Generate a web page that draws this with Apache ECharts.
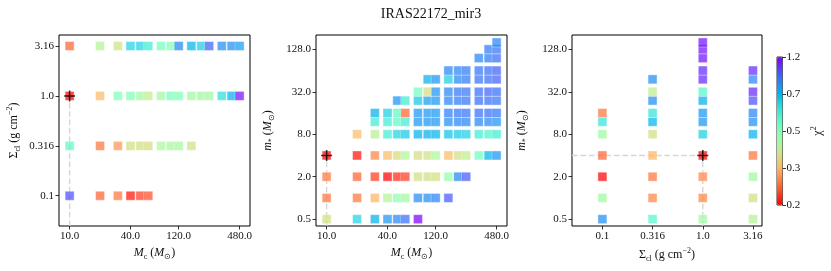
<!DOCTYPE html>
<html><head><meta charset="utf-8">
<script src="https://cdn.jsdelivr.net/npm/echarts@6/dist/echarts.min.js"></script>
<style>html,body{margin:0;padding:0;background:#fff}#c{width:831px;height:271px}</style>
</head><body><div id="c"></div>
<script>
// ---- grids of model parameters ----
const mcGrid = [10, 20, 30, 40, 50, 60, 80, 100, 120, 160, 200, 240, 320, 400, 480];
const sigmaGrid = [0.1, 0.316, 1.0, 3.16];
const mstarGrid = [0.5, 1, 2, 4, 8, 12, 16, 24, 32, 48, 64, 96, 128, 160];

// ---- tick labels ----
const mcTicks = [10, 40, 120, 480];
const mcTickLabels = ['10.0', '40.0', '120.0', '480.0'];
const sigmaTicks = [0.1, 0.316, 1.0, 3.16];
const sigmaTickLabels = ['0.1', '0.316', '1.0', '3.16'];
const mstarTicks = [0.5, 2, 8, 32, 128];
const mstarTickLabels = ['0.5', '2.0', '8.0', '32.0', '128.0'];
const chiTicks = [0.2, 0.3, 0.5, 0.7, 1.2];
const chiTickLabels = ['0.2', '0.3', '0.5', '0.7', '1.2'];

// best model
const bestMc = 10, bestSigma = 1.0, bestMstar = 4;

// ---- panel 1: chi2 per Sigma row, along mcGrid ----
const p1Sig01   = [1.0, 0.25, 0.26, 0.21, 0.23, 0.24];
const p1Sig0316 = [0.55, 0.26, 0.28, 0.37, 0.37, 0.37, 0.43, 0.44, 0.44, 0.38];
const p1Sig1    = [0.2, 0.31, 0.5, 0.5, 0.45, 0.4, 0.45, 0.52, 0.5, 0.45, 0.45, 0.45, 0.63, 0.72, 1.15];
const p1Sig316  = [0.25, 0.42, 0.38, 0.65, 0.65, 0.6, 0.52, 0.5, 0.85, 0.7, 0.66, 0.95, 0.82, 0.82, 0.78];

// ---- panel 2: chi2 per m* row, along mcGrid ----
const p2M05  = [0.37, 0.65, 0.72, 0.8, 0.85, 0.92, 1.2];
const p2M1   = [0.26, 0.26, 0.3, 0.42, 0.48, 0.45, 0.83, 0.83, 0.85, 0.97];
const p2M2   = [0.26, 0.25, 0.23, 0.2, 0.22, 0.23, 0.37, 0.37, 0.37, 0.47, 0.85, 0.97];
const p2M4   = [0.2, 0.21, 0.27, 0.31, 0.36, 0.43, 0.37, 0.38, 0.43, 0.31, 0.37, 0.4, 0.53, 0.7, 0.8];
const p2M8   = [null, 0.31, 0.41, 0.6, 0.65, 0.67, 0.7, 0.72, 0.7, 0.68, 0.67, 0.66, 0.6, 0.58, 0.6];
const p2M12  = [null, null, 0.6, 0.6, 0.55, 0.6, 0.8, 0.8, 0.8, 0.83, 0.85, 0.85, 0.85, 0.85, 0.8];
const p2M16  = [null, null, 0.72, 0.66, 0.55, 0.25, 0.8, 0.8, 0.8, 0.87, 0.9, 0.9, 0.92, 0.92, 0.9];
const p2M24  = [null, null, null, null, 0.8, 0.6, 0.67, 0.78, 0.8, 0.85, 0.88, 0.9, 0.92, 0.92, 0.9];
const p2M32  = [null, null, null, null, null, null, 0.52, 0.37, 0.8, 0.85, 0.9, 0.9, 0.92, 0.95, 0.92];
const p2M48  = [null, null, null, null, null, null, null, 0.72, 0.8, 0.66, 0.85, 0.88, 0.9, 0.92, 0.95];
const p2M64  = [null, null, null, null, null, null, null, null, null, 0.85, 0.85, 0.88, 0.9, 0.92, 0.95];
const p2M96  = [null, null, null, null, null, null, null, null, null, null, null, null, 0.85, 0.88, 0.92];
const p2M128 = [null, null, null, null, null, null, null, null, null, null, null, null, null, 0.88, 0.9];
const p2M160 = [null, null, null, null, null, null, null, null, null, null, null, null, null, null, 0.85];

// ---- panel 3: chi2 per Sigma column, along mstarGrid ----
const p3Sig01   = [0.82, 0.45, 0.2, 0.25, 0.45, 0.62, 0.26];
const p3Sig0316 = [0.57, 0.27, 0.26, 0.3, 0.37, 0.7, 0.62, 0.82, 0.4, 0.82];
const p3Sig1    = [0.45, 0.27, 0.27, 0.2, 0.66, 0.8, 0.8, 0.72, 0.57, 1.1, 1.1, 1.15, 1.15, 1.15];
const p3Sig316  = [0.42, 0.37, 0.45, 0.26, 0.7, 0.82, 0.85, 1.0, 1.1, 0.85, 1.1];

// ---------------------------------------------------------------
const L = Math.log10;
const FONT = 'Liberation Serif';
function chiToPos(c) {
  for (let i = 0; i < chiTicks.length - 1; i++) {
    if (c <= chiTicks[i + 1] || i === chiTicks.length - 2) {
      const f = (c - chiTicks[i]) / (chiTicks[i + 1] - chiTicks[i]);
      return Math.max(0, Math.min(1, (i + f) / (chiTicks.length - 1)));
    }
  }
}
function rainbow(x) {
  const cl = v => Math.round(255 * Math.max(0, Math.min(1, v)));
  return 'rgb(' + cl(Math.abs(2 * x - 0.5)) + ',' + cl(Math.sin(Math.PI * x)) + ',' + cl(Math.cos(Math.PI * x / 2)) + ')';
}
const cmap = [];
for (let k = 0; k <= 40; k++) cmap.push(rainbow(1 - k / 40));

function pts(xs, yFixed, vals, swap) {
  const out = [];
  vals.forEach((c, i) => {
    if (c == null) return;
    const a = L(xs[i]), b = L(yFixed);
    out.push(swap ? [b, a, chiToPos(c), c] : [a, b, chiToPos(c), c]);
  });
  return out;
}
const data1 = [].concat(
  pts(mcGrid, 0.1, p1Sig01), pts(mcGrid, 0.316, p1Sig0316),
  pts(mcGrid, 1.0, p1Sig1), pts(mcGrid, 3.16, p1Sig316));
const p2Rows = [p2M05, p2M1, p2M2, p2M4, p2M8, p2M12, p2M16, p2M24, p2M32, p2M48, p2M64, p2M96, p2M128, p2M160];
let data2 = [];
p2Rows.forEach((r, j) => { data2 = data2.concat(pts(mcGrid, mstarGrid[j], r)); });
const p3Cols = [p3Sig01, p3Sig0316, p3Sig1, p3Sig316];
let data3 = [];
p3Cols.forEach((col, j) => { data3 = data3.concat(pts(mstarGrid, sigmaGrid[j], col, true)); });

const X12 = [0.895, 2.784];
const Y1 = [-1.303, 0.61];
const X3 = [-1.303, 0.59];
const Y23 = [-0.398, 2.31];

const TICKFS = 11;
const rich = {
  n: { fontFamily: FONT, fontSize: 12, lineHeight: 16, verticalAlign: 'middle', color: '#111' },
  i: { fontFamily: FONT, fontSize: 12, fontStyle: 'italic', lineHeight: 16, verticalAlign: 'middle', color: '#111' },
  b: { fontFamily: FONT, fontSize: 8, lineHeight: 10, verticalAlign: 'bottom', color: '#111' },
  t: { fontFamily: FONT, fontSize: 8, lineHeight: 10, verticalAlign: 'top', color: '#111' }
};
function logAxis(grid, ext, ticks, labels, extra) {
  const tv = ticks.map(L);
  return Object.assign({
    type: 'value', gridIndex: grid, min: ext[0], max: ext[1],
    splitLine: { show: false }, axisLine: { show: false, onZero: false },
    axisTick: { show: true, customValues: tv, length: 3.5, inside: false, lineStyle: { color: '#000', width: 0.8 } },
    axisLabel: {
      customValues: tv, margin: 5, fontFamily: FONT, fontSize: TICKFS, color: '#111',
      formatter: v => { let bi = 0; tv.forEach((t, i) => { if (Math.abs(t - v) < Math.abs(tv[bi] - v)) bi = i; }); return labels[bi]; }
    },
    nameLocation: 'middle', nameTextStyle: { fontFamily: FONT, fontSize: 12, color: '#111', rich: rich }
  }, extra || {});
}
const nameMc = '{i|M}{b|c}{n| (}{i|M}{b|\u2299}{n|)}';
const nameSig = '{n|\u03a3}{b|cl}{n| (g cm}{t|\u22122}{n|)}';
const nameMs = '{i|m}{b|*}{n| (}{i|M}{b|\u2299}{n|)}';

const sqStyle = { opacity: 0.72, borderColor: 'rgba(255,255,255,0.7)', borderWidth: 0.8 };
const sqSize = 9;
const dash = { type: 'dashed', color: '#d6d6d6', width: 1.4 };
const plusPath = 'path://M0,4.3H10V5.7H0Z M4.3,0H5.7V10H4.3Z';

const gridBase = { show: true, borderColor: '#000', borderWidth: 1, backgroundColor: 'transparent', containLabel: false, outerBoundsMode: 'none' };

const option = {
  animation: false,
  backgroundColor: '#fff',
  graphic: [{ type: 'text', x: 431, y: 14, style: { text: 'IRAS22172_mir3', fontFamily: FONT, fontSize: 14, fill: '#111', textAlign: 'center', textVerticalAlign: 'middle' } }],
  grid: [
    Object.assign({ left: 59, top: 35, width: 191, height: 191 }, gridBase),
    Object.assign({ left: 316, top: 35, width: 191, height: 191 }, gridBase),
    Object.assign({ left: 572, top: 35, width: 190, height: 191 }, gridBase),
    Object.assign({ left: 777, top: 57, width: 5.5, height: 148 }, gridBase, { borderWidth: 0.8 })
  ],
  xAxis: [
    logAxis(0, X12, mcTicks, mcTickLabels, { name: nameMc, nameGap: 19 }),
    logAxis(1, X12, mcTicks, mcTickLabels, { name: nameMc, nameGap: 19 }),
    logAxis(2, X3, sigmaTicks, sigmaTickLabels, { name: nameSig, nameGap: 19 }),
    { type: 'value', gridIndex: 3, min: 0, max: 1, show: false }
  ],
  yAxis: [
    logAxis(0, Y1, sigmaTicks, sigmaTickLabels, { name: nameSig, nameGap: 37 }),
    logAxis(1, Y23, mstarTicks, mstarTickLabels, { name: nameMs, nameGap: 40 }),
    logAxis(2, Y23, mstarTicks, mstarTickLabels, { name: nameMs, nameGap: 42 }),
    {
      type: 'value', gridIndex: 3, position: 'right', min: 0, max: chiTicks.length - 1, interval: 1,
      splitLine: { show: false }, axisLine: { show: false, onZero: false },
      axisTick: { show: true, length: 3.5, lineStyle: { color: '#000', width: 0.8 } },
      axisLabel: { margin: 4, fontFamily: FONT, fontSize: TICKFS, color: '#111', formatter: v => chiTickLabels[Math.round(v)] },
      name: '{n|\u03c7}{t|2}', nameLocation: 'middle', nameGap: 27, nameRotate: 90,
      nameTextStyle: { rich: rich }
    }
  ],
  visualMap: {
    type: 'continuous', min: 0, max: 1, dimension: 2, seriesIndex: [0, 1, 2],
    left: 777, top: 57, itemWidth: 5.5, itemHeight: 148, padding: 0,
    calculable: false, hoverLink: false, realtime: false,
    inRange: { color: cmap }
  },
  series: [
    { type: 'scatter', xAxisIndex: 0, yAxisIndex: 0, data: data1, symbol: 'rect', symbolSize: sqSize, itemStyle: sqStyle, z: 3, silent: true },
    { type: 'scatter', xAxisIndex: 1, yAxisIndex: 1, data: data2, symbol: 'rect', symbolSize: sqSize, itemStyle: sqStyle, z: 3, silent: true },
    { type: 'scatter', xAxisIndex: 2, yAxisIndex: 2, data: data3, symbol: 'rect', symbolSize: sqSize, itemStyle: sqStyle, z: 3, silent: true },
    { type: 'line', xAxisIndex: 0, yAxisIndex: 0, data: [[L(bestMc), Y1[0]], [L(bestMc), L(bestSigma)]], symbol: 'none', lineStyle: dash, z: 1, silent: true },
    { type: 'line', xAxisIndex: 1, yAxisIndex: 1, data: [[L(bestMc), Y23[0]], [L(bestMc), L(bestMstar)]], symbol: 'none', lineStyle: dash, z: 1, silent: true },
    { type: 'line', xAxisIndex: 2, yAxisIndex: 2, data: [[L(bestSigma), Y23[0]], [L(bestSigma), L(bestMstar)]], symbol: 'none', lineStyle: dash, z: 1, silent: true },
    { type: 'line', xAxisIndex: 2, yAxisIndex: 2, data: [[X3[0], L(bestMstar)], [L(bestSigma), L(bestMstar)]], symbol: 'none', lineStyle: dash, z: 1, silent: true },
    { type: 'scatter', xAxisIndex: 0, yAxisIndex: 0, data: [[L(bestMc), L(bestSigma)]], symbol: plusPath, symbolSize: 11, itemStyle: { color: '#000' }, z: 5, silent: true },
    { type: 'scatter', xAxisIndex: 1, yAxisIndex: 1, data: [[L(bestMc), L(bestMstar)]], symbol: plusPath, symbolSize: 11, itemStyle: { color: '#000' }, z: 5, silent: true },
    { type: 'scatter', xAxisIndex: 2, yAxisIndex: 2, data: [[L(bestSigma), L(bestMstar)]], symbol: plusPath, symbolSize: 11, itemStyle: { color: '#000' }, z: 5, silent: true }
  ]
};
const chart = echarts.init(document.getElementById('c'), null, { renderer: 'canvas' });
chart.setOption(option);
</script>
</body></html>
